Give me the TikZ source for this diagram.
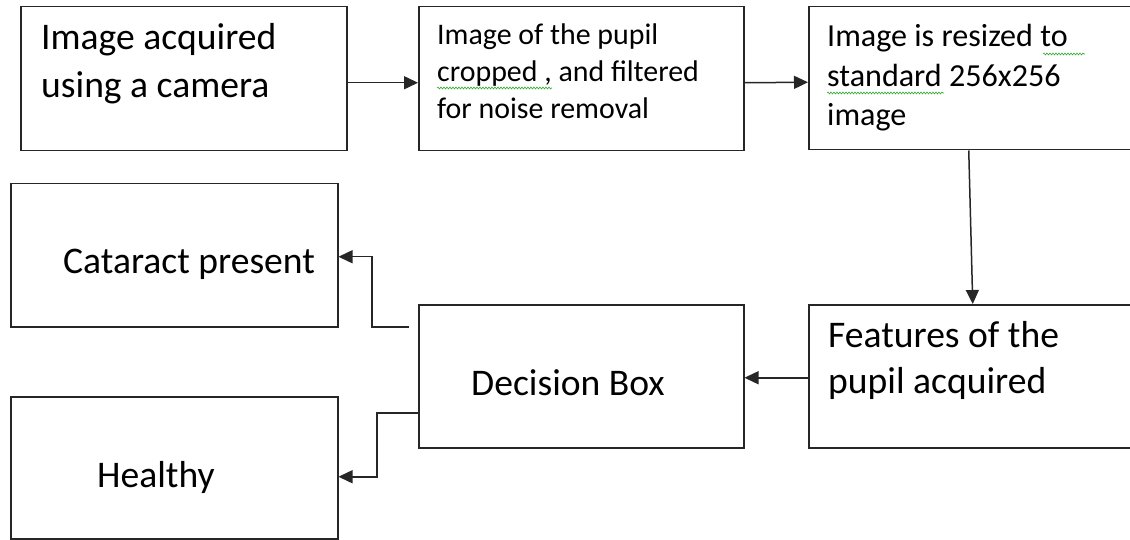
\documentclass[tikz,border=0pt]{standalone}
\usepackage{fontspec}
\setmainfont{Carlito}
\usetikzlibrary{arrows.meta,decorations.pathmorphing}
\begin{document}
\begin{tikzpicture}[x=1pt,y=-1pt,
  box/.style={draw=black!85,line width=1.5pt,rectangle,anchor=north west,inner sep=0pt},
  arr/.style={draw=black!85,line width=1.5pt,-{Triangle[length=14pt,width=13pt]}},
  big/.style={anchor=base west,inner sep=0pt,font=\fontsize{37.6}{44}\selectfont},
  midB/.style={anchor=base west,inner sep=0pt,font=\fontsize{29.9}{36}\selectfont},
  midC/.style={anchor=base west,inner sep=0pt,font=\fontsize{32.1}{38}\selectfont},
  squig/.style={draw=green!60!black!80,line width=0.6pt,decorate,decoration={snake,amplitude=1pt,segment length=3pt}}]
\useasboundingbox (0,0) rectangle (1130,540);
% boxes
\node[box,minimum width=326pt,minimum height=144pt] (A) at (20,6) {};
\node[box,minimum width=325pt,minimum height=144pt] (B) at (418,6) {};
\node[box,minimum width=330pt,minimum height=143pt] (C) at (808,6) {};
\node[box,minimum width=327pt,minimum height=143pt] (D) at (10,183) {};
\node[box,minimum width=325pt,minimum height=143pt] (E) at (418,304) {};
\node[box,minimum width=330pt,minimum height=143pt] (F) at (808,304) {};
\node[box,minimum width=327pt,minimum height=142pt] (G) at (10,396) {};
% texts
\node[big] (tA1) at (41,50) {Image acquired};
\node[big] (tA2) at (41,98) {using a camera};
\node[midB] (tB1) at (437,45) {Image of the pupil};
\node[midB] (tB2) at (437,82) {cropped , and filtered};
\node[midB] (tB3) at (437,119) {for noise removal};
\node[midC] (tC1) at (827,47) {Image is resized to};
\node[midC] (tC2) at (827,86.5) {standard 256x256};
\node[midC] (tC3) at (827,126) {image};
\node[big] (tD) at (63,273) {Cataract present};
\node[big] (tE) at (471,395) {Decision Box};
\node[big] (tF1) at (828,347) {Features of the};
\node[big] (tF2) at (828,393) {pupil acquired};
\node[big] (tG) at (97,487) {Healthy};
% spell-check squiggles
\coordinate (s1a) at (437,88); \coordinate (s1b) at (552,88);
\coordinate (s2a) at (1043,54); \coordinate (s2b) at (1085,54);
\coordinate (s3a) at (827,93); \coordinate (s3b) at (944,93);
\draw[squig] (s1a) -- (s1b);
\draw[squig] (s2a) -- (s2b);
\draw[squig] (s3a) -- (s3b);
% connectors
\draw[arr] ([yshift=-4pt]A.east) -- ([yshift=-4pt]B.west);
\draw[arr] ([yshift=-4pt]B.east) -- ([yshift=-4pt]C.west);
\draw[arr] ([xshift=-5pt]C.south) -- ([xshift=-1pt]F.north);
\draw[arr] ([yshift=-1.5pt]F.west) -- ([yshift=-1.5pt]E.east);
\coordinate (e1) at (409,327);
\draw[arr] (e1) -- ++(-37,0) |- ([yshift=-1.5pt]D.east);
\draw[arr] ([yshift=-36.5pt]E.west) -- ++(-41,0) |- ([yshift=-9pt]G.east);
\end{tikzpicture}
\end{document}
